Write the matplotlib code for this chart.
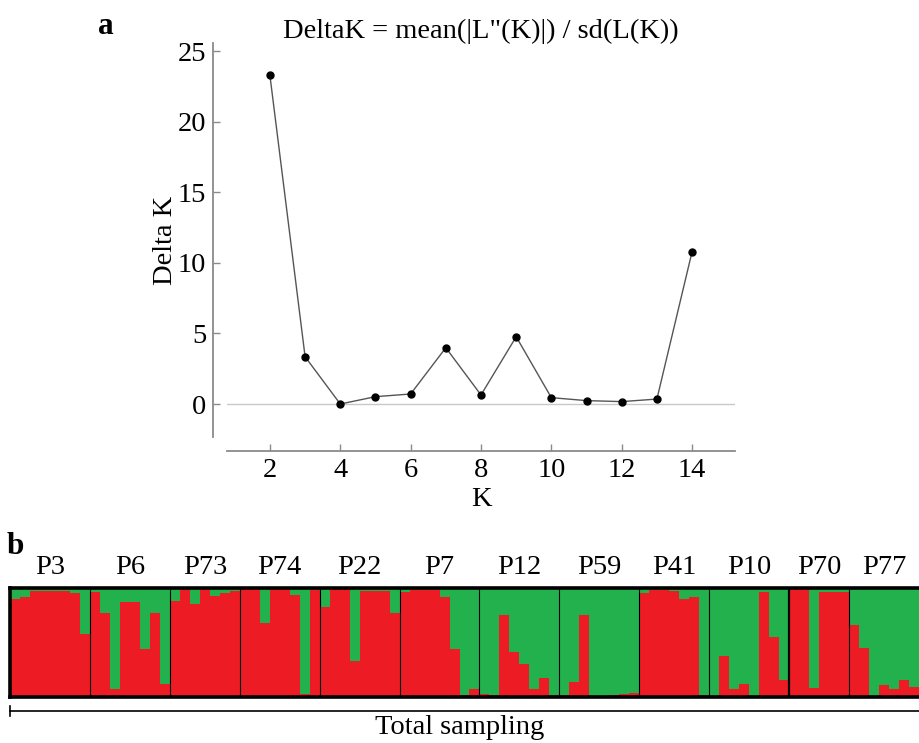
import matplotlib
matplotlib.use("Agg")
import matplotlib.pyplot as plt
from matplotlib.lines import Line2D
import numpy as np

plt.rcParams['font.family'] = ['Liberation Serif', 'DejaVu Serif']

# panel a: Evanno delta K
k_values = [2, 3, 4, 5, 6, 7, 8, 9, 10, 11, 12, 13, 14]
delta_k = [23.3, 3.35, 0.0, 0.52, 0.71, 3.99, 0.64, 4.77, 0.45, 0.24, 0.17, 0.35, 10.8]

# panel b: red-cluster membership per individual, grouped by population
populations = ['P3', 'P6', 'P73', 'P74', 'P22', 'P7', 'P12', 'P59', 'P41', 'P10', 'P70', 'P77']
red_share = [
  [0.90, 0.92, 0.97, 0.97, 0.97, 0.97, 0.95, 0.58],
  [0.96, 0.77, 0.07, 0.87, 0.87, 0.44, 0.77, 0.12],
  [0.88, 0.99, 0.85, 0.99, 0.93, 0.95, 0.97],
  [0.99, 0.99, 0.68, 0.99, 0.99, 0.94, 0.03, 0.98],
  [0.83, 0.99, 0.99, 0.33, 0.97, 0.97, 0.97, 0.77],
  [0.96, 0.98, 0.98, 0.98, 0.92, 0.44, 0.02, 0.07],
  [0.03, 0.02, 0.75, 0.41, 0.30, 0.07, 0.17, 0.02],
  [0.02, 0.14, 0.75, 0.01, 0.01, 0.02, 0.03, 0.04],
  [0.95, 0.98, 0.98, 0.97, 0.90, 0.92, 0.02],
  [0.01, 0.38, 0.07, 0.12, 0.01, 0.96, 0.55, 0.16],
  [0.99, 0.99, 0.08, 0.96, 0.96, 0.96],
  [0.66, 0.45, 0.01, 0.11, 0.07, 0.16, 0.09],
]

RED = '#ED1C24'
GREEN = '#22B14C'
AXGRAY = '#8a8a8a'
FS = 20.5

fig = plt.figure(figsize=(9.19, 7.43), dpi=100)

# ---- panel a
ax = fig.add_axes([227/919, 1-437/743, (735-227)/919, (437-43)/743])
ax.axhline(0, color='#c8c8c8', lw=1.0, zorder=1)
ax.plot(k_values, delta_k, color='#555555', lw=1.0, zorder=2)
ax.plot(k_values, delta_k, 'o', color='black', ms=5, zorder=3)
ax.set_xlim(0.78, 15.22)
ax.set_ylim(-2.34, 25.6)
ax.set_xticks(range(2, 15, 2))
ax.set_yticks(range(0, 26, 5))
for s in ['top', 'right']:
  ax.spines[s].set_visible(False)
for s in ['left', 'bottom']:
  ax.spines[s].set_position(('outward', 10))
  ax.spines[s].set_color(AXGRAY)
  ax.spines[s].set_linewidth(1.3)
ax.tick_params(direction='in', length=5, width=1, color=AXGRAY, labelsize=FS, pad=5)
ax.set_xlabel('K', fontsize=FS, labelpad=3)
ax.set_ylabel('Delta K', fontsize=FS, labelpad=0)
fig.text(481/919, 1-31/743, 'DeltaK = mean(|L"(K)|) / sd(L(K))', fontsize=FS,
         ha='center', va='center')
fig.text(106/919, 1-27/743, 'a', fontsize=FS+2, fontweight='bold', ha='center', va='center')

# ---- panel b
bx = fig.add_axes([10/919, 1-697/743, (919-10)/919, (697-588)/743])
vals = np.concatenate([np.array(v) for v in red_share])
idx = np.arange(len(vals))
bx.bar(idx, vals, width=1.0, align='edge', color=RED, lw=0)
bx.bar(idx, 1 - vals, bottom=vals, width=1.0, align='edge', color=GREEN, lw=0)
bx.set_xlim(0, len(vals))
bx.set_ylim(0, 1)
bx.set_xticks([])
bx.set_yticks([])
for s in bx.spines.values():
  s.set_linewidth(2.6)
  s.set_color('black')
bx.spines['right'].set_visible(False)

start = 0
for i, (name, v) in enumerate(zip(populations, red_share)):
  if start > 0:
    bx.axvline(start, color='black', lw=1.6 if name == 'P70' else 0.8)
  bx.text(start + len(v)/2, 1.07, name, fontsize=FS, ha='center', va='bottom',
          transform=bx.transData, clip_on=False)
  start += len(v)

fig.text(15/919, 1-547/743, 'b', fontsize=FS+2, fontweight='bold', ha='center', va='center')

# total sampling bracket
y_br = 1 - 711/743
fig.add_artist(Line2D([10/919, 1.0], [y_br, y_br], color='black', lw=1.2))
fig.add_artist(Line2D([10/919, 10/919], [1-706/743, 1-716/743], color='black', lw=1.2))
fig.text(460/919, 1-728/743, 'Total sampling', fontsize=FS, ha='center', va='center')

fig.savefig('out.png', dpi=100)
